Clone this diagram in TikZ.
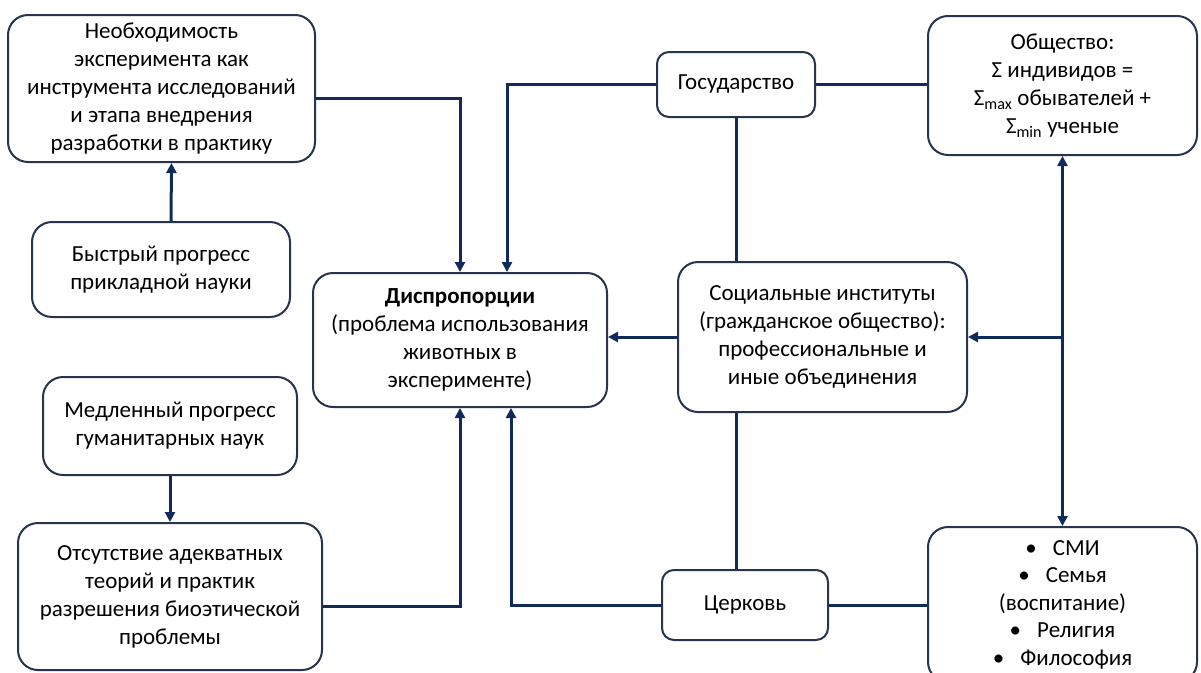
\documentclass[tikz,border=0pt]{standalone}
\usepackage{fontspec}
\setmainfont{Carlito}
\usepackage{tikz}
\usetikzlibrary{arrows.meta}

\definecolor{linkcol}{RGB}{16,42,92}
\definecolor{edgecol}{RGB}{38,52,78}
\newcommand{\itm}[1]{•\hspace{0.7em}#1}
\tikzset{
  blk/.style={draw=edgecol, line width=2pt, rounded corners=20pt, fill=white,
    align=center, inner sep=0pt, font=\fontsize{23}{28}\selectfont},
  link/.style={draw=linkcol, line width=3pt},
  arr/.style={link, -{Triangle[length=10pt,width=10pt]}},
  twoway/.style={link, {Triangle[length=10pt,width=10pt]}-{Triangle[length=10pt,width=10pt]}}
}

\begin{document}
\begin{tikzpicture}[x=1pt,y=-1pt]
\useasboundingbox (0,0) rectangle (1201,672);
\fill[white] (0,0) rectangle (1201,672);

\node[blk, minimum width=307pt, minimum height=147pt] (need) at (161.5,88.5)
  {Необходимость\\эксперимента как\\инструмента исследований\\и этапа внедрения\\разработки в практику};
\node[blk, minimum width=258pt, minimum height=95pt] (fast) at (161,269.5)
  {Быстрый прогресс\\прикладной науки};
\node[blk, minimum width=254pt, minimum height=98pt] (slow) at (170,426)
  {Медленный прогресс\\гуманитарных наук};
\node[blk, minimum width=304pt, minimum height=147pt] (lack) at (170,596.5)
  {Отсутствие адекватных\\теорий и практик\\разрешения биоэтической\\проблемы};
\node[blk, minimum width=294pt, minimum height=134pt] (disp) at (460,340)
  {\textbf{Диспропорции}\\(проблема использования\\животных в\\эксперименте)};
\node[blk, rounded corners=12pt, minimum width=158pt, minimum height=65pt] (state) at (736,84.5)
  {Государство};
\node[blk, minimum width=289pt, minimum height=150pt] (soc) at (822.5,337)
  {Социальные институты\\(гражданское общество):\\профессиональные и\\иные объединения};
\node[blk, rounded corners=12pt, minimum width=166pt, minimum height=70pt] (church) at (745,605)
  {Церковь};
\node[blk, minimum width=269pt, minimum height=139pt] (society) at (1062.5,85.5)
  {Общество:\\Σ индивидов =\\Σ\textsubscript{max} обывателей +\\Σ\textsubscript{min} ученые};
\node[blk, minimum width=269pt, minimum height=155pt, font=\fontsize{23}{27.5}\selectfont] (media) at (1062.5,604.5)
  {\itm{СМИ}\\\itm{Семья}\\(воспитание)\\\itm{Религия}\\\itm{Философия}};

\draw[arr] ([xshift=10pt]fast.north) -- ([xshift=10pt]need.south);
\draw[arr] (slow.south) -- (slow.south |- lack.north);
\draw[arr] ([yshift=-10pt]need.east) -| (disp.north);
\draw[arr] (state.west) -| ([xshift=47pt]disp.north);
\draw[arr] ([yshift=-10pt]lack.east) -| (disp.south);
\draw[arr] (church.west) -| ([xshift=51pt]disp.south);
\draw[arr] (soc.west) -- (soc.west -| disp.east);
\draw[link] (state.east) -- (state.east -| society.west);
\draw[link] (state.south) -- (state.south |- soc.north);
\draw[link] (state.south |- soc.south) -- (state.south |- church.north);
\draw[link] (church.east) -- (church.east -| media.west);
\coordinate (fork) at (society.south |- soc.east);
\draw[twoway] (society.south) -- (media.north);
\draw[arr] (fork) -- (soc.east);
\end{tikzpicture}
\end{document}
